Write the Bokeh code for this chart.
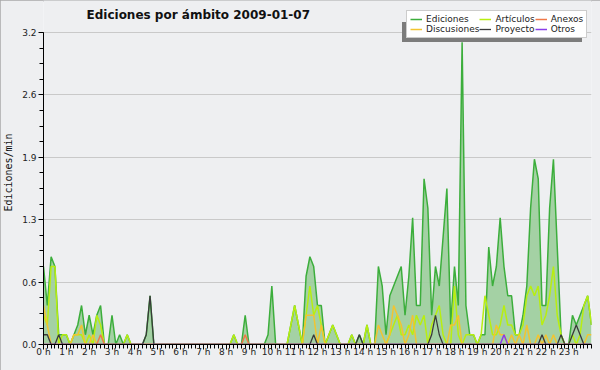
from bokeh.plotting import figure
from bokeh.models import FixedTicker, Legend, LegendItem, Label, Range1d
from bokeh.embed import file_html
from bokeh.resources import INLINE

title_text = "Ediciones por ámbito  2009-01-07"
hour_labels = [f"{h} h" for h in range(24)]
y_ticks = [0.0, 0.64, 1.28, 1.92, 2.56, 3.2]
y_tick_labels = ["0.0", "0.6", "1.3", "1.9", "2.6", "3.2"]
step_minutes = 10

ediciones = [
    0.8, 0.4, 0.9, 0.8, 0.1, 0.1,
    0.1, 0.0, 0.1, 0.2, 0.4, 0.1,
    0.3, 0.1, 0.3, 0.4, 0.0, 0.0,
    0.3, 0.0, 0.1, 0.0, 0.1, 0.0,
    0.0, 0.0, 0.0, 0.1, 0.5, 0.0,
    0.0, 0.0, 0.0, 0.0, 0.0, 0.0,
    0.0, 0.0, 0.0, 0.0, 0.0, 0.0,
    0.0, 0.0, 0.0, 0.0, 0.0, 0.0,
    0.0, 0.0, 0.1, 0.0, 0.0, 0.3,
    0.0, 0.0, 0.0, 0.0, 0.0, 0.1,
    0.6, 0.0, 0.0, 0.0, 0.0, 0.2,
    0.4, 0.2, 0.0, 0.7, 0.9, 0.8,
    0.4, 0.4, 0.0, 0.1, 0.2, 0.1,
    0.0, 0.0, 0.0, 0.1, 0.0, 0.1,
    0.0, 0.2, 0.0, 0.0, 0.8, 0.6,
    0.1, 0.5, 0.6, 0.7, 0.8, 0.3,
    0.7, 1.3, 0.4, 0.4, 1.7, 1.4,
    0.3, 0.8, 0.6, 1.1, 1.6, 0.2,
    0.8, 0.4, 3.1, 0.4, 0.1, 0.1,
    0.0, 0.1, 0.1, 1.0, 0.6, 0.8,
    1.3, 0.8, 0.5, 0.5, 0.1, 0.1,
    0.3, 0.6, 1.4, 1.9, 1.7, 0.4,
    0.4, 1.4, 1.9, 1.0, 0.1, 0.0,
    0.0, 0.3, 0.2, 0.3, 0.4, 0.5,
    0.2,
]
articulos = [
    0.3, 0.2, 0.8, 0.8, 0.0, 0.1,
    0.1, 0.0, 0.1, 0.1, 0.1, 0.0,
    0.1, 0.0, 0.3, 0.2, 0.0, 0.0,
    0.0, 0.0, 0.0, 0.0, 0.1, 0.0,
    0.0, 0.0, 0.0, 0.0, 0.0, 0.0,
    0.0, 0.0, 0.0, 0.0, 0.0, 0.0,
    0.0, 0.0, 0.0, 0.0, 0.0, 0.0,
    0.0, 0.0, 0.0, 0.0, 0.0, 0.0,
    0.0, 0.0, 0.1, 0.0, 0.0, 0.0,
    0.0, 0.0, 0.0, 0.0, 0.0, 0.0,
    0.0, 0.0, 0.0, 0.0, 0.0, 0.2,
    0.4, 0.2, 0.0, 0.3, 0.6, 0.3,
    0.4, 0.2, 0.0, 0.1, 0.2, 0.1,
    0.0, 0.0, 0.0, 0.1, 0.0, 0.0,
    0.0, 0.2, 0.0, 0.0, 0.0, 0.0,
    0.0, 0.1, 0.2, 0.3, 0.1, 0.1,
    0.2, 0.1, 0.3, 0.2, 0.3, 0.0,
    0.2, 0.3, 0.4, 0.1, 0.0, 0.0,
    0.6, 0.1, 0.0, 0.1, 0.1, 0.1,
    0.0, 0.1, 0.5, 0.3, 0.1, 0.1,
    0.2, 0.4, 0.2, 0.2, 0.1, 0.1,
    0.2, 0.5, 0.6, 0.5, 0.6, 0.2,
    0.3, 0.5, 0.8, 0.3, 0.1, 0.0,
    0.0, 0.1, 0.0, 0.1, 0.4, 0.5,
    0.2,
]
discusiones = [
    0.4, 0.2, 0.0, 0.0, 0.0, 0.0,
    0.0, 0.0, 0.1, 0.1, 0.2, 0.0,
    0.0, 0.1, 0.0, 0.0, 0.0, 0.0,
    0.0, 0.0, 0.0, 0.0, 0.0, 0.0,
    0.0, 0.0, 0.0, 0.0, 0.0, 0.0,
    0.0, 0.0, 0.0, 0.0, 0.0, 0.0,
    0.0, 0.0, 0.0, 0.0, 0.0, 0.0,
    0.0, 0.0, 0.0, 0.0, 0.0, 0.0,
    0.0, 0.0, 0.0, 0.0, 0.0, 0.0,
    0.0, 0.0, 0.0, 0.0, 0.0, 0.0,
    0.0, 0.0, 0.0, 0.0, 0.0, 0.0,
    0.0, 0.0, 0.0, 0.3, 0.3, 0.3,
    0.0, 0.2, 0.0, 0.0, 0.0, 0.0,
    0.0, 0.0, 0.0, 0.0, 0.0, 0.0,
    0.0, 0.0, 0.0, 0.0, 0.2, 0.1,
    0.0, 0.1, 0.4, 0.3, 0.2, 0.0,
    0.1, 0.3, 0.0, 0.0, 0.0, 0.0,
    0.0, 0.0, 0.0, 0.0, 0.0, 0.2,
    0.2, 0.3, 0.0, 0.0, 0.0, 0.0,
    0.0, 0.0, 0.0, 0.0, 0.0, 0.2,
    0.1, 0.1, 0.0, 0.1, 0.0, 0.1,
    0.0, 0.2, 0.0, 0.0, 0.1, 0.0,
    0.1, 0.0, 0.1, 0.0, 0.0, 0.0,
    0.0, 0.0, 0.0, 0.0, 0.0, 0.1,
    0.1,
]
proyecto = [
    0.1, 0.1, 0.0, 0.0, 0.1, 0.0,
    0.0, 0.0, 0.0, 0.0, 0.0, 0.0,
    0.0, 0.0, 0.0, 0.0, 0.0, 0.0,
    0.0, 0.0, 0.0, 0.0, 0.0, 0.0,
    0.0, 0.0, 0.0, 0.1, 0.5, 0.0,
    0.0, 0.0, 0.0, 0.0, 0.0, 0.0,
    0.0, 0.0, 0.0, 0.0, 0.0, 0.0,
    0.0, 0.0, 0.0, 0.0, 0.0, 0.0,
    0.0, 0.0, 0.0, 0.0, 0.0, 0.0,
    0.0, 0.0, 0.0, 0.0, 0.0, 0.0,
    0.0, 0.0, 0.0, 0.0, 0.0, 0.0,
    0.0, 0.0, 0.0, 0.0, 0.0, 0.1,
    0.0, 0.0, 0.0, 0.0, 0.0, 0.0,
    0.0, 0.0, 0.0, 0.0, 0.0, 0.1,
    0.0, 0.0, 0.0, 0.0, 0.0, 0.0,
    0.0, 0.0, 0.0, 0.0, 0.0, 0.0,
    0.0, 0.0, 0.0, 0.0, 0.0, 0.0,
    0.1, 0.3, 0.1, 0.0, 0.0, 0.0,
    0.0, 0.0, 0.0, 0.0, 0.0, 0.0,
    0.0, 0.0, 0.0, 0.0, 0.0, 0.0,
    0.0, 0.0, 0.0, 0.0, 0.0, 0.0,
    0.0, 0.0, 0.0, 0.0, 0.0, 0.1,
    0.0, 0.0, 0.0, 0.0, 0.1, 0.0,
    0.0, 0.1, 0.2, 0.1, 0.0, 0.0,
    0.0,
]
anexos = [0.0] * 145
anexos_points = {15: 0.1, 53: 0.1}
otros = [0.0] * 145
otros_points = {121: 0.1}
for k, v in anexos_points.items():
    anexos[k] = v
for k, v in otros_points.items():
    otros[k] = v

x = [i * step_minutes / 60 for i in range(len(ediciones))]

BG = "#eeeff1"
y_top = 3.2 + 32 / 97.5  # frame reaches the top of the canvas
p = figure(width=600, height=370, output_backend="svg", toolbar_location=None,
           x_range=Range1d(0, 24), y_range=Range1d(0, y_top),
           min_border_left=42, min_border_right=9, min_border_top=0, min_border_bottom=26,
           styles={"outline": "2px solid #a8a8a8", "outline-offset": "-2px"})
p.background_fill_color = BG
p.border_fill_color = BG
p.outline_line_color = None

p.varea(x=x, y1=0, y2=ediciones, fill_color="#9fcf9f", fill_alpha=0.95)
r_ed = p.line(x, ediciones, line_color="#3cae3c", line_width=1.5)
r_ar = p.line(x, articulos, line_color="#b8ee10", line_width=1.5)
r_di = p.line(x, discusiones, line_color="#f2c430", line_width=1.5)
r_an = p.line(x, anexos, line_color="#f07848", line_width=1.5)
r_pr = p.line(x, proyecto, line_color="#3a3a3a", line_width=1.3)
r_ot = p.line(x, otros, line_color="#8a3ee8", line_width=1.5)
r_hidden = p.line(x, ediciones, line_alpha=0)

p.xaxis.ticker = FixedTicker(ticks=list(range(24)), minor_ticks=[k / 6 for k in range(145)])
p.xaxis.major_label_overrides = {h: lab for h, lab in enumerate(hour_labels)}
p.yaxis.ticker = FixedTicker(ticks=y_ticks, minor_ticks=[k * 0.16 for k in range(21)])
p.yaxis.major_label_overrides = dict(zip(y_ticks, y_tick_labels))
p.yaxis.bounds = (0, 3.2)

for ax in (p.xaxis[0], p.yaxis[0]):
    ax.axis_line_color = "black"
    ax.major_tick_line_color = "black"
    ax.minor_tick_line_color = "black"
    ax.major_tick_in = 0
    ax.minor_tick_in = 0
    ax.major_label_text_font = "DejaVu Sans"
    ax.major_label_text_font_size = "9px"
    ax.major_label_text_color = "#222222"
p.xaxis.major_tick_out = 5
p.xaxis.minor_tick_out = 4
p.yaxis.major_tick_out = 5
p.yaxis.minor_tick_out = 4
p.xaxis.major_label_standoff = -3
p.yaxis.major_label_standoff = 2
p.yaxis.axis_label = "Ediciones/min"
p.yaxis.axis_label_text_font = "DejaVu Sans Mono"
p.yaxis.axis_label_text_font_size = "10px"
p.yaxis.axis_label_text_font_style = "normal"
p.yaxis.axis_label_text_color = "#111111"
p.yaxis.axis_label_standoff = 5

p.xgrid.grid_line_color = None
p.ygrid.grid_line_color = "#c9c9c9"
p.ygrid.ticker = FixedTicker(ticks=y_ticks[1:])

# title, drawn inside the tall frame
p.add_layout(Label(x=43, y=330, x_units="screen", y_units="screen", text=title_text,
                   text_font="DejaVu Sans", text_font_size="12px", text_font_style="bold",
                   text_baseline="middle", text_color="#111111"))

# shadow of the legend box: one empty item sized like the legend, grey background
shadow = Legend(items=[LegendItem(label="", renderers=[r_hidden])], location=(359, 302))
shadow.glyph_width = 180
shadow.glyph_height = 20
shadow.label_height = 20
shadow.label_width = 0
shadow.label_standoff = 0
shadow.padding = 3
shadow.margin = 0
shadow.spacing = 0
shadow.label_text_font_size = "1px"
shadow.background_fill_color = "#7c7c7c"
shadow.background_fill_alpha = 1
shadow.border_line_color = None
p.add_layout(shadow, "center")

legend = Legend(items=[
    LegendItem(label="Ediciones", renderers=[r_ed]),
    LegendItem(label="Discusiones", renderers=[r_di]),
    LegendItem(label="Artículos", renderers=[r_ar]),
    LegendItem(label="Proyecto", renderers=[r_pr]),
    LegendItem(label="Anexos", renderers=[r_an]),
    LegendItem(label="Otros", renderers=[r_ot]),
], location=(363, 306), nrows=2, orientation="vertical")
legend.label_text_font = "DejaVu Sans"
legend.label_text_font_size = "9px"
legend.label_height = 10
legend.glyph_height = 10
legend.glyph_width = 12
legend.label_standoff = 4
legend.spacing = 0
legend.padding = 3
legend.margin = 0
legend.label_text_color = "#222222"
legend.background_fill_color = "white"
legend.background_fill_alpha = 1
legend.border_line_color = "#9a9a9a"
legend.border_line_width = 1.5
p.add_layout(legend, "center")

p.add_layout(Label(x=263, y=-17, x_units="screen", y_units="screen", text="wikiscan.org",
                   text_font="DejaVu Sans", text_font_size="9px", text_align="center",
                   text_color="#222222", text_baseline="middle"))
p.add_layout(Label(x=548, y=-18, x_units="screen", y_units="screen", text="CC BY-SA 3.0",
                   text_font="DejaVu Sans", text_font_size="7px", text_align="right",
                   text_color="#444444", text_baseline="middle"))

open("out.html", "w").write(file_html(p, INLINE))
